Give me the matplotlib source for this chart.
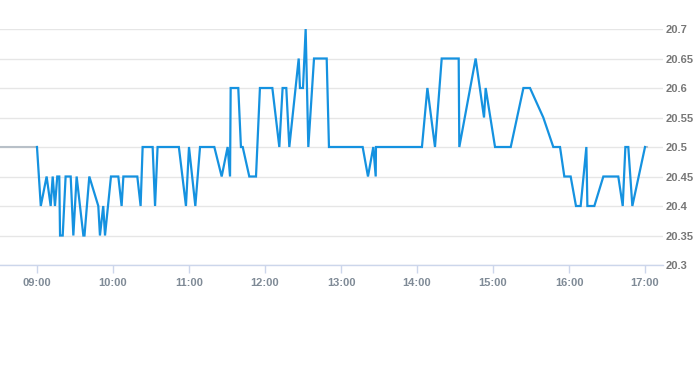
import matplotlib
matplotlib.use("Agg")
import matplotlib.pyplot as plt

# time (minutes after 09:00) and price
minutes = [0, 3, 7.6, 10.8, 12.4, 14.2, 16, 17.6, 18.2, 20.3, 22.6, 26.6, 28.7, 31.3,
           36.6, 37.5, 41.3, 48.4, 49.7, 52.3, 53.7, 58.4, 64.2, 66.8, 68.2, 79.2, 81.8,
           83.4, 91.3, 93.2, 95.2, 112, 117.6, 120, 125, 128.7, 140, 145.8, 150.5, 152.4,
           152.9, 158.9, 161, 162.4, 167.6, 172.9, 176, 185.8, 191.3, 193.9, 196.8, 199.2,
           206.6, 207.6, 210, 212.1, 214.2, 218.7, 228.7, 230.5, 257.1, 261.3, 265.5, 267.4,
           267.6, 303.9, 308.2, 314.2, 319.5, 332.9, 333.4, 346.3, 352.9, 354.2, 361.6, 374,
           384, 389.2, 399.7, 407.6, 412.9, 416.3, 421.3, 425.5, 429.2, 433.7, 434.5, 440,
           447.1, 458.9, 462.4, 464.5, 466.8, 470, 480]
prices = [20.5, 20.4, 20.45, 20.4, 20.45, 20.4, 20.45, 20.45, 20.35, 20.35, 20.45, 20.45, 20.35, 20.45,
          20.35, 20.35, 20.45, 20.4, 20.35, 20.4, 20.35, 20.45, 20.45, 20.4, 20.45, 20.45, 20.4,
          20.5, 20.5, 20.4, 20.5, 20.5, 20.4, 20.5, 20.4, 20.5, 20.5, 20.45, 20.5, 20.45,
          20.6, 20.6, 20.5, 20.5, 20.45, 20.45, 20.6, 20.6, 20.5, 20.6, 20.6, 20.5,
          20.65, 20.6, 20.6, 20.7, 20.5, 20.65, 20.65, 20.5, 20.5, 20.45, 20.5, 20.45,
          20.5, 20.5, 20.6, 20.5, 20.65, 20.65, 20.5, 20.65, 20.55, 20.6, 20.5, 20.5,
          20.6, 20.6, 20.55, 20.5, 20.5, 20.45, 20.45, 20.4, 20.4, 20.5, 20.4, 20.4,
          20.45, 20.45, 20.4, 20.5, 20.5, 20.4, 20.5]
prev_close = 20.5
pre_minutes = [-29.2, 0]

x_ticks = [0, 60, 120, 180, 240, 300, 360, 420, 480]
x_labels = ["09:00", "10:00", "11:00", "12:00", "13:00", "14:00", "15:00", "16:00", "17:00"]
y_ticks = [20.3, 20.35, 20.4, 20.45, 20.5, 20.55, 20.6, 20.65, 20.7]
y_labels = ["20.3", "20.35", "20.4", "20.45", "20.5", "20.55", "20.6", "20.65", "20.7"]

plt.rcParams['font.family'] = ['Liberation Sans', 'DejaVu Sans']
fig = plt.figure(figsize=(6.93, 3.65), dpi=100)
ax = fig.add_axes([0, 1 - 265 / 365, 663 / 693, (265 - 29) / 365])

ax.plot(pre_minutes, [prev_close, prev_close], color='#b8c0c8', lw=1.5, zorder=2)
ax.plot([480, 481.5], [prev_close, prev_close], color='#b8c0c8', lw=1.5, zorder=2)
ax.plot(minutes, prices, color='#1592e0', lw=1.6, zorder=3, solid_joinstyle='miter')

ax.set_xlim(-29.2, 494.2)
ax.set_ylim(20.3, 20.7)
ax.set_yticks(y_ticks)
ax.set_yticklabels(y_labels)
ax.set_xticks(x_ticks)
ax.set_xticklabels(x_labels)
ax.yaxis.tick_right()
ax.grid(axis='y', color='#e6e6e6', lw=1)
ax.set_axisbelow(True)
for s in ['top', 'left', 'right']:
    ax.spines[s].set_visible(False)
ax.spines['bottom'].set_color('#ccd6eb')
ax.spines['bottom'].set_linewidth(1)
ax.tick_params(axis='y', length=0, pad=2, labelsize=8, labelcolor='#777777')
ax.tick_params(axis='x', length=6, width=1, color='#ccd6eb', pad=3, labelsize=8,
               labelcolor='#7f8a96')
for lab in ax.get_xticklabels():
    lab.set_fontweight('bold')
for lab in ax.get_yticklabels():
    lab.set_fontweight('bold')

fig.savefig('out.png', dpi=100)
